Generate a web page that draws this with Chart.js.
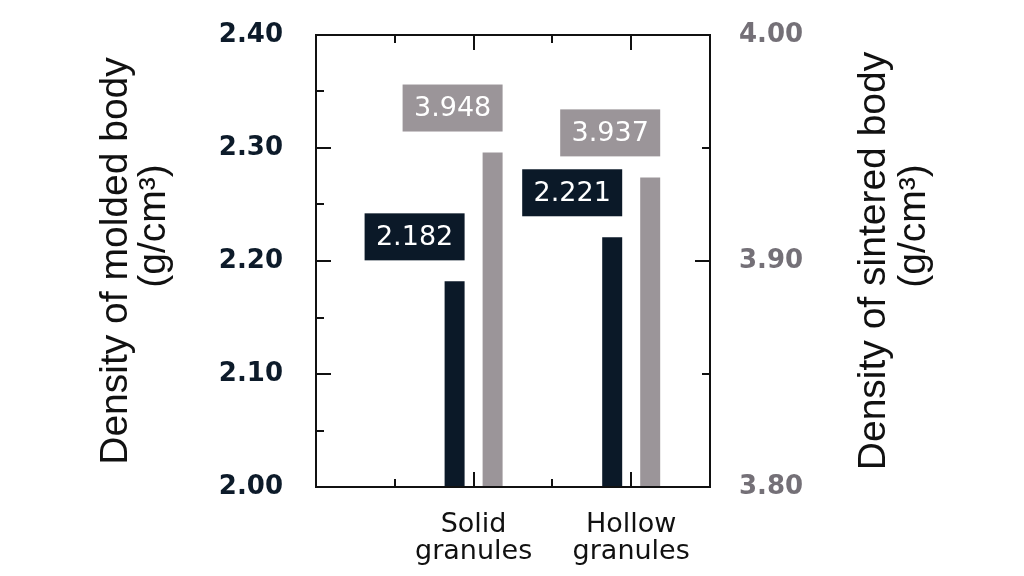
<!DOCTYPE html>
<html><head><meta charset="utf-8">
<script src="https://cdn.jsdelivr.net/npm/chart.js@4/dist/chart.umd.min.js"></script>
<style>html,body{margin:0;padding:0;background:#fff;}#wrap{width:1024px;height:576px;}</style>
</head><body><div id="wrap"><canvas id="c" width="1024" height="576"></canvas></div>
<script>
const categories = ['Solid granules', 'Hollow granules'];
const moldedDensity = [2.182, 2.221];
const sinteredDensity = [3.948, 3.937];
const leftAxisTitle = ['Density of molded body', '(g/cm³)'];
const rightAxisTitle = ['Density of sintered body', '(g/cm³)'];

const DARK = '#0b1928', GRAY = '#9b9599', INK = '#111111';

const frame = {
  id: 'frame',
  afterDraw(chart) {
    const {ctx, chartArea: a, scales} = chart;
    ctx.save();
    ctx.strokeStyle = INK; ctx.lineWidth = 2; ctx.lineCap = 'butt';
    const line = (x1, y1, x2, y2) => { ctx.beginPath(); ctx.moveTo(x1, y1); ctx.lineTo(x2, y2); ctx.stroke(); };
    const MAJ = 15, MIN = 8;
    for (let v = scales.x.min + 1; v < scales.x.max; v++) {
      const px = Math.round(scales.x.getPixelForValue(v));
      const len = v % 2 === 0 ? MAJ : MIN;
      line(px, a.bottom, px, a.bottom - len);
      line(px, a.top, px, a.top + len);
    }
    [['y', 1], ['y2', -1]].forEach(([id, dir]) => {
      const s = scales[id];
      const half = s.options.ticks.stepSize / 2;
      const n = Math.round((s.max - s.min) / half);
      const edge = dir > 0 ? a.left : a.right;
      for (let k = 1; k < n; k++) {
        const py = Math.round(s.getPixelForValue(s.min + k * half));
        line(edge, py, edge + dir * (k % 2 === 0 ? MAJ : MIN), py);
      }
    });
    ctx.strokeRect(a.left, a.top, a.right - a.left, a.bottom - a.top);
    // axis titles
    ctx.fillStyle = INK;
    ctx.font = '39px "Liberation Sans"';
    ctx.textAlign = 'center'; ctx.textBaseline = 'alphabetic';
    const mid = (a.top + a.bottom) / 2;
    const vt = (text, x, y) => { ctx.save(); ctx.translate(x, y); ctx.rotate(-Math.PI / 2); ctx.fillText(text, 0, 0); ctx.restore(); };
    vt(leftAxisTitle[0], 127, mid);
    vt(leftAxisTitle[1], 165, mid - 35);
    vt(rightAxisTitle[0], 885, mid);
    vt(rightAxisTitle[1], 925, mid - 35);
    ctx.restore();
  },
  afterDatasetsDraw(chart) {
    const {ctx} = chart;
    ctx.save();
    chart.data.datasets.forEach((ds, di) => {
      const meta = chart.getDatasetMeta(di);
      meta.data.forEach((bar, i) => {
        const p = bar.getProps(['x', 'y', 'width'], true);
        const right = p.x + p.width / 2;
        const w = 100, h = 47, gap = 21;
        const top = p.y - gap - h;
        ctx.fillStyle = ds.backgroundColor;
        ctx.fillRect(right - w, top, w, h);
        ctx.fillStyle = '#ffffff';
        ctx.font = '500 27px "DejaVu Sans"';
        ctx.textAlign = 'center'; ctx.textBaseline = 'middle';
        ctx.fillText(ds.data[i].y.toFixed(3), right - w / 2, top + h / 2 + 1);
      });
    });
    ctx.restore();
  }
};

const slot = i => 2 * (i + 1);
const fitY = w => s => { s.width = w; s.paddingTop = 0; s.paddingBottom = 0; };

new Chart(document.getElementById('c'), {
  type: 'bar',
  data: {
    datasets: [
      { label: 'Density of molded body', data: categories.map((c, i) => ({x: slot(i), y: moldedDensity[i]})),
        backgroundColor: DARK, yAxisID: 'y', categoryPercentage: 0.9645, barPercentage: 0.526 },
      { label: 'Density of sintered body', data: categories.map((c, i) => ({x: slot(i), y: sinteredDensity[i]})),
        backgroundColor: GRAY, yAxisID: 'y2', categoryPercentage: 0.9645, barPercentage: 0.526 }
    ]
  },
  options: {
    responsive: false, animation: false, devicePixelRatio: 1,
    layout: {padding: {top: 35, left: 0, right: 0, bottom: 0}},
    plugins: {legend: {display: false}, tooltip: {enabled: false}},
    scales: {
      x: {
        type: 'linear', position: 'bottom', min: 0, max: 5, offset: false,
        grid: {display: false, drawTicks: false}, border: {display: false},
        ticks: {
          stepSize: 1, autoSkip: false, maxRotation: 0, padding: 24, color: INK,
          font: {family: 'DejaVu Sans', size: 27, lineHeight: 1.0},
          callback: v => { const i = v / 2 - 1; return (Number.isInteger(i) && categories[i]) ? categories[i].split(' ') : ''; }
        },
        afterFit: s => { s.height = 89; s.paddingLeft = 0; s.paddingRight = 0; }
      },
      y: {
        position: 'left', min: 2.0, max: 2.4,
        grid: {display: false, drawTicks: false}, border: {display: false},
        ticks: {stepSize: 0.1, padding: 33, color: '#0d1b2a',
          font: {family: 'DejaVu Sans', size: 26, weight: 'bold'}, callback: v => v.toFixed(2)},
        afterFit: fitY(316)
      },
      y2: {
        position: 'right', min: 3.8, max: 4.0,
        grid: {display: false, drawTicks: false}, border: {display: false},
        ticks: {stepSize: 0.1, padding: 29, color: '#747077',
          font: {family: 'DejaVu Sans', size: 26, weight: 'bold'}, callback: v => v.toFixed(2)},
        afterFit: fitY(314)
      }
    }
  },
  plugins: [frame]
});
</script>
</body></html>
